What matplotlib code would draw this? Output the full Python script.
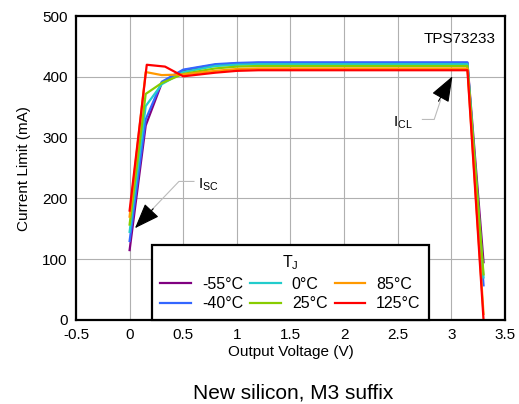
import matplotlib
matplotlib.use("Agg")
import matplotlib.pyplot as plt

plt.rcParams['font.family'] = ['Liberation Sans', 'DejaVu Sans']

labels = ["-55°C", "-40°C", "0°C", "25°C", "85°C", "125°C"]
colors = ["#800080", "#3366ff", "#22cccc", "#88cc00", "#ff9900", "#ff0000"]

v = [0.0, 0.15, 0.3, 0.5, 0.8, 1.0, 1.2, 3.15, 3.3]
i_m55 = [115, 320, 390, 411, 420, 422, 423, 423, 95]
i_m40 = [130, 330, 392, 412, 421, 423, 424, 424, 57]
i_0 = [145, 352, 388, 408, 418, 420, 421, 421, 70]
i_25 = [157, 372, 390, 405, 414, 417, 418, 418, 75]
i_85 = [170, 408, 403, 404, 410, 413, 414, 414, 10]
v_125 = [0.0, 0.16, 0.33, 0.5, 0.8, 1.0, 1.2, 3.1, 3.15, 3.3]
i_125 = [180, 420, 417, 401, 407, 410, 411, 411, 411, 0]

series = [(v, i_m55), (v, i_m40), (v, i_0), (v, i_25), (v, i_85), (v_125, i_125)]

fig = plt.figure(figsize=(5.19, 4.04), dpi=100)
ax = fig.add_axes([0.1464, 0.208, 0.8266, 0.752])

for (x, y), c, lab in zip(series, colors, labels):
    ax.plot(x, y, color=c, lw=1.6, label=lab)

ax.set_xlim(-0.5, 3.5)
ax.set_ylim(0, 500)
ax.set_xticks([-0.5, 0, 0.5, 1, 1.5, 2, 2.5, 3, 3.5])
ax.set_xticklabels(["-0.5", "0", "0.5", "1", "1.5", "2", "2.5", "3", "3.5"])
ax.set_yticks([0, 100, 200, 300, 400, 500])
ax.grid(True, color="#b0b0b0", lw=0.8)
ax.set_axisbelow(True)
for s in ax.spines.values():
    s.set_linewidth(1.6)
ax.tick_params(length=0, labelsize=11, pad=6)
ax.set_xlabel("Output Voltage (V)", fontsize=11, labelpad=2)
ax.set_ylabel("Current Limit (mA)", fontsize=11, labelpad=8)

ax.text(3.41, 462, "TPS73233", fontsize=11, ha="right", va="center")

arrow = dict(arrowstyle="-|>,head_length=1.6,head_width=0.6", color="black", lw=0.8,
             shrinkA=0, shrinkB=0)

# I_CL annotation
ax.annotate("", xy=(3.01, 401), xytext=(2.88, 360), arrowprops=arrow)
ax.plot([2.73, 2.84, 2.9], [330, 330, 362], color="#bbbbbb", lw=0.8)
ax.text(2.55, 325, r"I$_{\mathregular{CL}}$", fontsize=11, ha="center", va="center")

# I_SC annotation
ax.annotate("", xy=(0.05, 151), xytext=(0.22, 183), arrowprops=arrow)
ax.plot([0.2, 0.46, 0.6], [180, 228, 228], color="#bbbbbb", lw=0.8)
ax.text(0.64, 222, r"I$_{\mathregular{SC}}$", fontsize=11, ha="left", va="center")

leg = ax.legend(ncol=3, loc="lower center", bbox_to_anchor=(0.5, 0.0), borderaxespad=0,
                title=r"T$_{\mathregular{J}}$", fontsize=11.5, title_fontsize=11.5,
                fancybox=False, edgecolor="black", framealpha=1,
                handlelength=1.9, columnspacing=0.45, handletextpad=0.7,
                borderpad=0.55, labelspacing=0.28)
leg.get_frame().set_linewidth(1.6)

fig.text(0.565, 0.027, "New silicon, M3 suffix", fontsize=15, ha="center", va="center")

fig.savefig("out.png", dpi=100)
